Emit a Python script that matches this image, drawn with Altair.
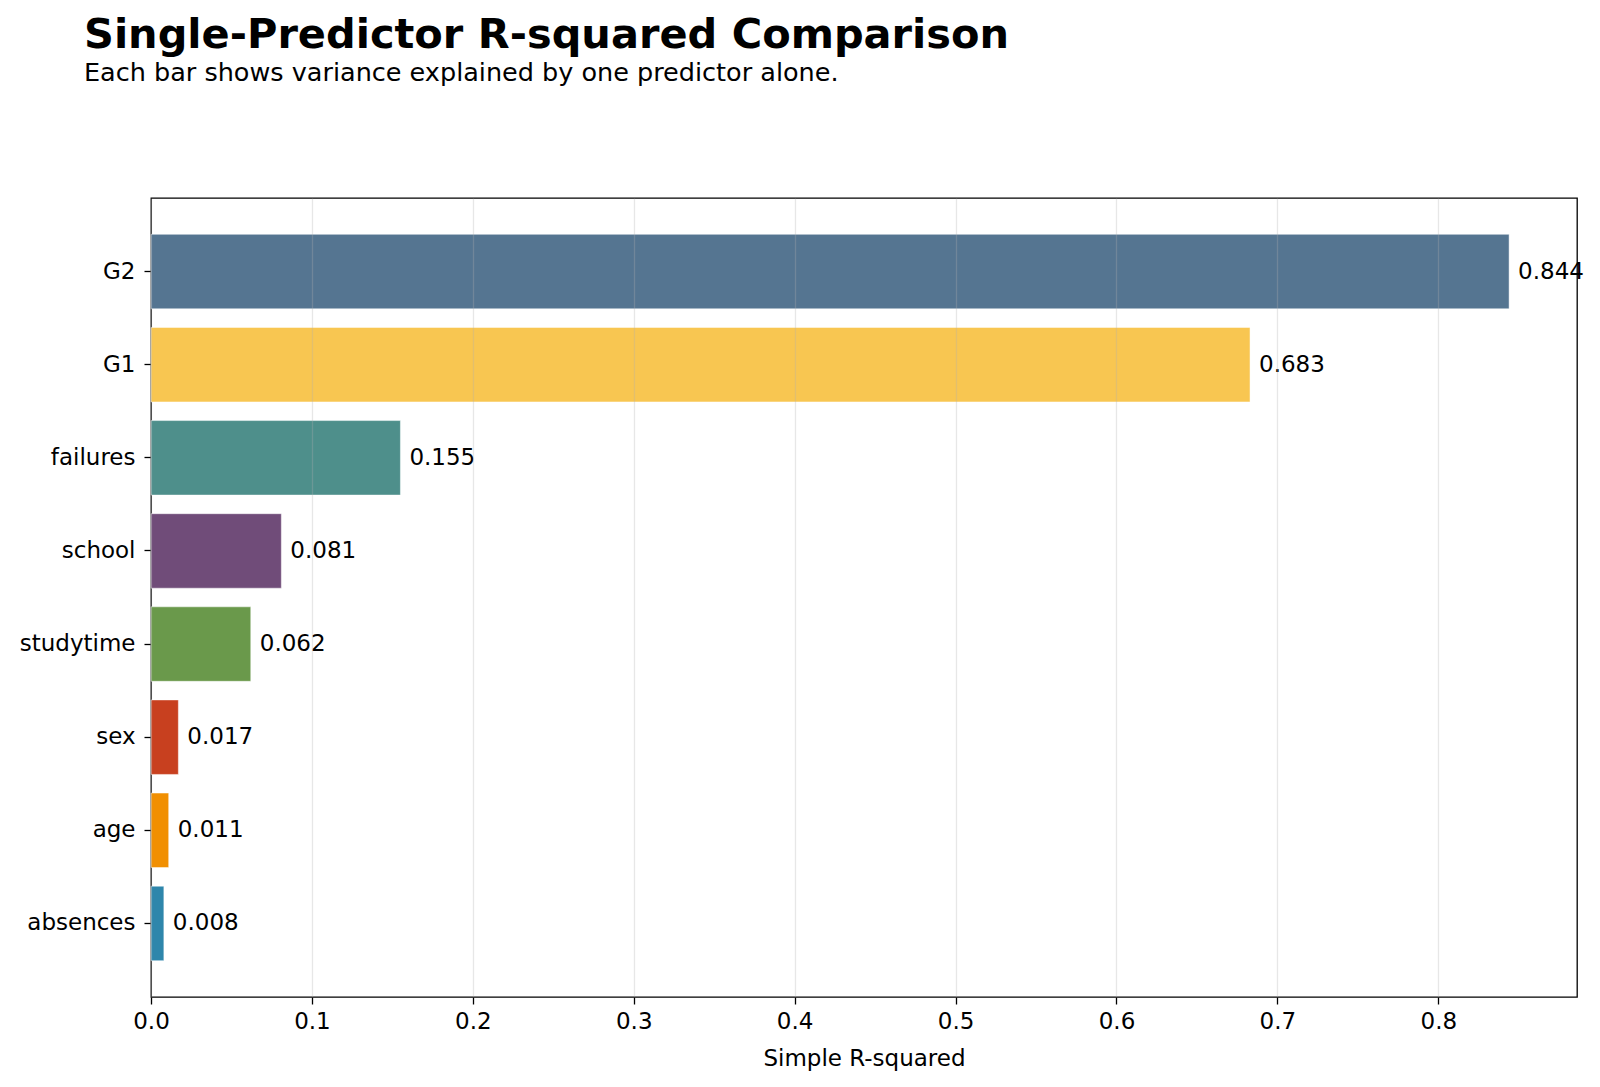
import altair as alt
import pandas as pd

# Single-predictor R-squared values, largest first
predictors = ["G2", "G1", "failures", "school", "studytime", "sex", "age", "absences"]
r_squared = [0.844, 0.683, 0.155, 0.081, 0.062, 0.017, 0.011, 0.008]
bar_colors = ["#557591", "#F8C651", "#4E8F8B", "#704C79", "#6A994B", "#C8401F", "#F18F01", "#2E86AB"]
x_ticks = [0.0, 0.1, 0.2, 0.3, 0.4, 0.5, 0.6, 0.7, 0.8]

df = pd.DataFrame({"predictor": predictors, "r2": r_squared})

FONT = "DejaVu Sans"
TICK_FS = 23

y_enc = alt.Y(
    "predictor:N",
    sort=predictors,
    scale=alt.Scale(paddingInner=0.2, paddingOuter=0.39),
    axis=alt.Axis(
        title=None,
        grid=False,
        domain=False,
        tickSize=7,
        tickWidth=1.3,
        tickColor="black",
        labelPadding=9,
        labelFontSize=TICK_FS,
        labelColor="black",
    ),
)

x_scale = alt.Scale(domain=[0, 0.8862], nice=False, zero=True)

bars = alt.Chart(df).mark_bar(stroke="white", strokeWidth=0.8, strokeOpacity=0.6).encode(
    x=alt.X(
        "r2:Q",
        scale=x_scale,
        axis=alt.Axis(
            title="Simple R-squared",
            values=x_ticks,
            format=".1f",
            grid=True,
            gridColor="#b0b0b0",
            gridOpacity=0.3,
            gridWidth=1.3,
            domain=False,
            tickSize=7,
            tickWidth=1.3,
            tickColor="black",
            labelFlush=False,
            labelPadding=6,
            labelFontSize=TICK_FS,
            labelColor="black",
            titleFontSize=TICK_FS,
            titleFontWeight="normal",
            titleColor="black",
            titlePadding=14,
            zindex=1,
        ),
    ),
    y=y_enc,
    color=alt.Color("predictor:N", scale=alt.Scale(domain=predictors, range=bar_colors), legend=None),
)

labels = alt.Chart(df).mark_text(
    align="left", baseline="middle", dx=9, fontSize=TICK_FS, font=FONT, color="black"
).encode(
    x=alt.X("r2:Q", scale=x_scale),
    y=alt.Y("predictor:N", sort=predictors),
    text=alt.Text("r2:Q", format=".3f"),
)

chart = (
    alt.layer(bars, labels)
    .properties(
        width=1426,
        height=799,
        autosize=alt.AutoSizeParams(type="none"),
        padding={"left": 151, "top": 198, "right": 23, "bottom": 90},
        title=alt.TitleParams(
            text="Single-Predictor R-squared Comparison",
            subtitle="Each bar shows variance explained by one predictor alone.",
            anchor="start",
            frame="group",
            dx=-67,
            offset=112,
            font=FONT,
            fontSize=41.5,
            fontWeight="bold",
            color="black",
            subtitleFont=FONT,
            subtitleFontSize=25.5,
            subtitleColor="black",
            subtitlePadding=4,
        ),
    )
    .configure(font=FONT)
    .configure_view(stroke="black", strokeWidth=1.3)
)

chart.save("out.html", embed_options={"renderer": "svg", "actions": False})
